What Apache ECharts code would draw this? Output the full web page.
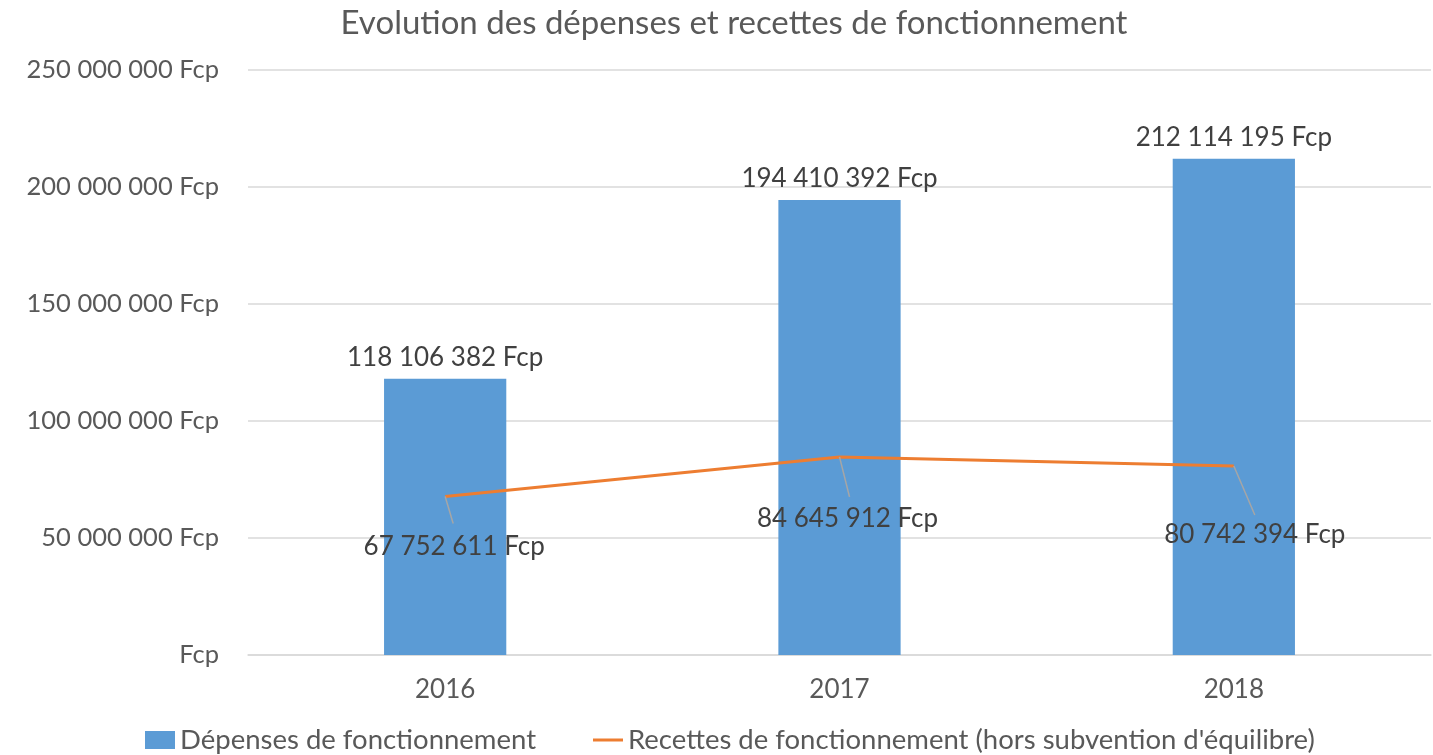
<!DOCTYPE html>
<html>
<head>
<meta charset="utf-8">
<script src="https://cdn.jsdelivr.net/npm/echarts@6/dist/echarts.min.js"></script>
<style>
  html, body { margin: 0; padding: 0; background: #fff; }
  #chart { width: 1433px; height: 755px; }
</style>
</head>
<body>
<div id="chart"></div>
<script>
const years = ['2016', '2017', '2018'];
const depenses = [118106382, 194410392, 212114195];
const recettes = [67752611, 84645912, 80742394];
const yTicks = [0, 50000000, 100000000, 150000000, 200000000, 250000000];

// pixel offsets of the line labels and their leader lines (relative to the point)
const labelDx = [9, 8, 21];
const labelDy = [50, 62, 69];
const leadDx = [8, 10, 21];
const leadDy = [27, 40, 49];

const TXT = '#595959';
const FONT = 'Lato, "Open Sans", sans-serif';

function fcp(v) {
  if (!v) return 'Fcp';
  return String(Math.round(v)).replace(/\B(?=(\d{3})+(?!\d))/g, ' ') + ' Fcp';
}

const chart = echarts.init(document.getElementById('chart'));
chart.setOption({
  animation: false,
  textStyle: { fontFamily: FONT, color: TXT },
  title: {
    text: 'Evolution des dépenses et recettes de fonctionnement',
    left: 729, top: 2, textAlign: 'center',
    textStyle: { fontFamily: FONT, fontSize: 33, fontWeight: 'normal', color: TXT }
  },
  legend: {
    bottom: -4, left: 140,
    itemGap: 57, itemWidth: 30, itemHeight: 18,
    textStyle: { fontFamily: FONT, fontSize: 27.5, color: TXT },
    data: [
      { name: 'Dépenses de fonctionnement', icon: 'rect' },
      { name: "Recettes de fonctionnement (hors subvention d'équilibre)",
        icon: 'path://M0,0 L30,0 L30,3 L0,3 Z', itemStyle: { color: '#ED7D31' } }
    ]
  },
  grid: { left: 248, right: 2, top: 70, bottom: 100 },
  xAxis: {
    type: 'category', data: years,
    axisLine: { lineStyle: { color: '#D9D9D9', width: 1.5 } },
    axisTick: { show: false },
    axisLabel: { fontFamily: FONT, fontSize: 26, color: TXT, margin: 22 }
  },
  yAxis: {
    type: 'value', min: yTicks[0], max: yTicks[yTicks.length - 1], interval: 50000000,
    axisLine: { show: false }, axisTick: { show: false },
    splitLine: { lineStyle: { color: '#D9D9D9', width: 1.5 } },
    axisLabel: { fontFamily: FONT, fontSize: 25.5, color: TXT, margin: 29, formatter: fcp }
  },
  series: [
    {
      name: 'Dépenses de fonctionnement', type: 'bar', data: depenses,
      barWidth: '31%',
      itemStyle: { color: '#5B9BD5' },
      label: {
        show: true, position: 'top', distance: 8,
        fontFamily: FONT, fontSize: 26, color: '#404040',
        formatter: p => fcp(p.value)
      }
    },
    {
      name: "Recettes de fonctionnement (hors subvention d'équilibre)", type: 'line',
      data: recettes, z: 3,
      symbol: 'circle', symbolSize: 0,
      lineStyle: { color: '#ED7D31', width: 3 },
      itemStyle: { color: '#ED7D31' },
      label: {
        show: true, position: 'inside',
        fontFamily: FONT, fontSize: 26, color: '#404040',
        formatter: p => fcp(p.value)
      },
      labelLayout: p => ({ dx: labelDx[p.dataIndex], dy: labelDy[p.dataIndex] })
    },
    {
      // leader lines from each point down to its label
      type: 'custom', z: 4, silent: true,
      data: recettes.map((v, i) => [i, v]),
      renderItem: (params, api) => {
        const i = params.dataIndex;
        const p = api.coord([api.value(0), api.value(1)]);
        return {
          type: 'line',
          shape: { x1: p[0], y1: p[1], x2: p[0] + leadDx[i], y2: p[1] + leadDy[i] },
          style: { stroke: '#A6A6A6', lineWidth: 1.5 }
        };
      }
    }
  ]
});
</script>
</body>
</html>
